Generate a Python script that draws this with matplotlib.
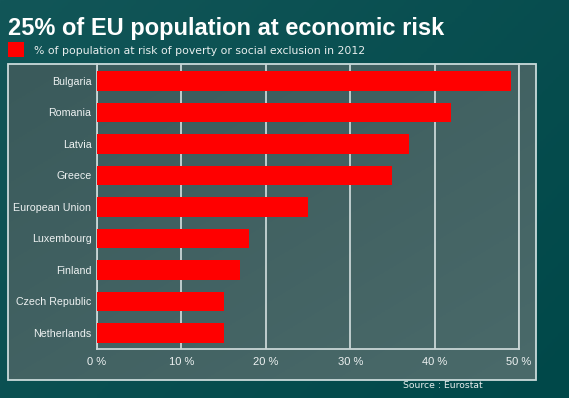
import numpy as np
import matplotlib.pyplot as plt
from matplotlib.patches import Rectangle
from matplotlib.colors import LinearSegmentedColormap

countries = ["Bulgaria", "Romania", "Latvia", "Greece", "European Union",
             "Luxembourg", "Finland", "Czech Republic", "Netherlands"]
risk_pct = [49, 42, 37, 35, 25, 18, 17, 15, 15]
xticks = [0, 10, 20, 30, 40, 50]
xtick_labels = ["0 %", "10 %", "20 %", "30 %", "40 %", "50 %"]

W, H = 569, 398
fig = plt.figure(figsize=(W / 100, H / 100), dpi=100)

# dark teal background
bg = fig.add_axes([0, 0, 1, 1])
bg.set_axis_off()
yy, xx = np.mgrid[0:1:200j, 0:1:200j]
grad = 0.6 * xx + 0.4 * yy
bg_cmap = LinearSegmentedColormap.from_list("bg", ["#125658", "#004849"])
bg.imshow(grad, cmap=bg_cmap, extent=[0, 1, 0, 1], aspect="auto", origin="upper")
bg.set_xlim(0, 1)
bg.set_ylim(0, 1)

# lighter panel behind the chart
px0, py0, px1, py1 = 8 / W, 1 - 380 / H, 536 / W, 1 - 64 / H
panel_cmap = LinearSegmentedColormap.from_list("panel", ["#3a5a5b", "#4a6a6a"])
pg = 0.5 * xx + 0.5 * (1 - yy)
bg.imshow(pg, cmap=panel_cmap, extent=[px0, px1, py0, py1], aspect="auto",
          origin="lower", zorder=1)
bg.add_patch(Rectangle((px0, py0), px1 - px0, py1 - py0, fill=False,
                       edgecolor="#c9dada", linewidth=1.3, zorder=2))

# title, legend, source
fig.text(8 / W, 1 - 34.5 / H, "25% of EU population at economic risk",
         fontsize=17, fontweight="bold", color="white",
         family="Liberation Sans", va="baseline", ha="left")
bg.add_patch(Rectangle((8 / W, 1 - 56.5 / H), 16 / W, 14.5 / H,
                       facecolor="#ff0000", edgecolor="none", zorder=3))
fig.text(34 / W, 1 - 50.5 / H,
         "% of population at risk of poverty or social exclusion in 2012",
         fontsize=7.8, color="#e8eeee", family="DejaVu Sans", va="center")
fig.text(403 / W, 1 - 386 / H, "Source : Eurostat", fontsize=6.7,
         color="#e8eeee", family="DejaVu Sans", va="center", ha="left")

ax = fig.add_axes([97 / W, 1 - 349 / H, 422 / W, 285 / H])
ax.set_facecolor("none")
ypos = np.arange(len(countries))
ax.barh(ypos, risk_pct, height=0.63, color="#ff0000", zorder=3)
ax.set_xlim(0, 50)
ax.set_ylim(8.51, -0.54)
ax.set_yticks(ypos)
ax.set_yticklabels(countries, family="Liberation Sans", fontsize=7.7,
                   color="#eef2f2")
ax.set_xticks(xticks)
ax.set_xticklabels(xtick_labels, family="Liberation Sans", fontsize=8,
                   color="#eef2f2")
ax.tick_params(length=0)
ax.tick_params(axis="x", pad=6)
ax.tick_params(axis="y", pad=4)
ax.grid(axis="x", color="#c9d6d6", linewidth=1.3, zorder=1)
for side in ["left", "bottom", "right"]:
    ax.spines[side].set_color("#c9d6d6")
    ax.spines[side].set_linewidth(1.3)
ax.spines["top"].set_visible(False)

fig.savefig("out.png", dpi=100)
